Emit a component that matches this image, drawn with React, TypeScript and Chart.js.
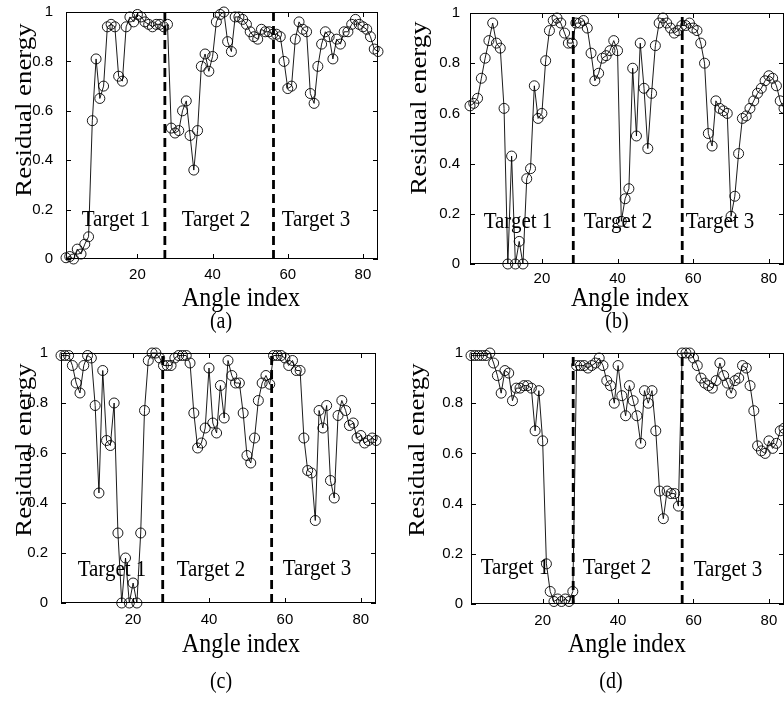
import React, { useEffect, useRef } from 'react';
import { Chart, registerables } from 'chart.js';

Chart.register(...registerables);

// ---------- data ----------
const X_MIN = 1;
const X_MAX = 84;
const X_TICKS = [20, 40, 60, 80];
const Y_TICKS = [0, 0.2, 0.4, 0.6, 0.8, 1];
const Y_TICK_LABELS = ['0', '0.2', '0.4', '0.6', '0.8', '1'];
const X_TITLE = 'Angle index';
const Y_TITLE = 'Residual energy';
const TARGET_LABELS = ['Target 1', 'Target 2', 'Target 3'];
const CAPTIONS = ['(a)', '(b)', '(c)', '(d)'];

const RES_A = [
  0.005, 0.01, 0.0, 0.04, 0.02, 0.06, 0.09, 0.56, 0.81, 0.65,
  0.70, 0.94, 0.95, 0.94, 0.74, 0.72, 0.94, 0.98, 0.96, 0.99,
  0.98, 0.96, 0.95, 0.94, 0.95, 0.95, 0.94, 0.95,
  0.53, 0.51, 0.52, 0.60, 0.64, 0.50, 0.36, 0.52, 0.78, 0.83,
  0.76, 0.82, 0.96, 0.99, 1.0, 0.88, 0.84,
  0.98, 0.98, 0.97, 0.95, 0.92, 0.90, 0.89, 0.93, 0.92, 0.92, 0.91,
  0.91, 0.90, 0.80, 0.69, 0.70, 0.89, 0.96, 0.93, 0.92, 0.67,
  0.63, 0.78, 0.87, 0.92, 0.90, 0.81, 0.89, 0.87, 0.92, 0.92,
  0.95, 0.97, 0.95, 0.94, 0.93, 0.90, 0.85, 0.84,
];

const RES_B = [
  0.63, 0.64, 0.66, 0.74, 0.82, 0.89, 0.96, 0.88, 0.86, 0.62,
  0.0, 0.43, 0.0, 0.09, 0.0, 0.34, 0.38, 0.71, 0.58, 0.60,
  0.81, 0.93, 0.97, 0.98, 0.96, 0.92, 0.88, 0.88,
  0.96, 0.96, 0.97, 0.94, 0.84, 0.73, 0.76, 0.82, 0.83, 0.85,
  0.89, 0.85, 0.17, 0.26, 0.30, 0.78, 0.51, 0.88, 0.70, 0.46,
  0.68, 0.87, 0.96, 0.98, 0.96, 0.94, 0.92, 0.93,
  0.95, 0.95, 0.96, 0.94, 0.93, 0.88, 0.80, 0.52, 0.47, 0.65,
  0.62, 0.61, 0.60, 0.19, 0.27, 0.44, 0.58, 0.59, 0.62, 0.65,
  0.68, 0.70, 0.73, 0.75, 0.74, 0.71, 0.65, 0.62,
];

const RES_C = [
  0.99, 0.99, 0.99, 0.95, 0.88, 0.84, 0.95, 0.99, 0.98, 0.79,
  0.44, 0.93, 0.65, 0.63, 0.80, 0.28, 0.0, 0.18, 0.0, 0.08,
  0.0, 0.28, 0.77, 0.97, 1.0, 1.0, 0.98, 0.95,
  0.95, 0.95, 0.98, 0.99, 0.99, 0.99, 0.96, 0.76, 0.62, 0.64,
  0.70, 0.94, 0.72, 0.68, 0.87, 0.74, 0.97, 0.91, 0.88, 0.88,
  0.76, 0.59, 0.56, 0.66, 0.81, 0.88, 0.91, 0.875,
  0.99, 0.99, 0.99, 0.98, 0.95, 0.97, 0.93, 0.93, 0.66, 0.53,
  0.52, 0.33, 0.77, 0.70, 0.79, 0.49, 0.42, 0.75, 0.81, 0.77,
  0.71, 0.72, 0.66, 0.67, 0.64, 0.65, 0.66, 0.65,
];

const RES_D = [
  0.99, 0.99, 0.99, 0.99, 0.99, 1.0, 0.96, 0.91, 0.84, 0.93,
  0.92, 0.81, 0.86, 0.86, 0.87, 0.87, 0.86, 0.69, 0.85, 0.65,
  0.16, 0.05, 0.01, 0.02, 0.01, 0.02, 0.01, 0.05,
  0.95, 0.95, 0.95, 0.94, 0.95, 0.96, 0.98, 0.95, 0.89, 0.87,
  0.80, 0.95, 0.83, 0.75, 0.87, 0.81, 0.75, 0.64, 0.85, 0.80,
  0.85, 0.69, 0.45, 0.34, 0.45, 0.44, 0.44, 0.39,
  1.0, 1.0, 1.0, 0.98, 0.95, 0.90, 0.88, 0.87, 0.86, 0.89,
  0.96, 0.91, 0.88, 0.84, 0.89, 0.90, 0.95, 0.94, 0.87, 0.77,
  0.63, 0.61, 0.60, 0.65, 0.62, 0.64, 0.69, 0.70,
];

// target boundaries (angle index of the dashed separators)
const BOUNDS_A = [27.3, 56.2];
const BOUNDS_B = [28.3, 57.1];
const BOUNDS_C = [27.8, 56.5];
const BOUNDS_D = [28.1, 57.0];

// ---------- layout (page pixels) ----------
const SERIF = "'Liberation Serif', 'Times New Roman', serif";
const SANS = "'Liberation Sans', Arial, Helvetica, sans-serif";
const STRETCH = 1.12;

const LAYOUTS = [
  {
    left: 0, top: 0, width: 392, height: 340,
    area: { l: 66, t: 12, r: 378, b: 259 }, yPad: 13, xPad: 7,
    yTitle: [25, 110], xTitle: [241, 299], caption: [221, 322],
    targets: [[116, 220], [216, 220], [316, 220]],
  },
  {
    left: 392, top: 0, width: 392, height: 340,
    area: { l: 470, t: 13, r: 784, b: 264 }, yPad: 10, xPad: 6,
    yTitle: [420, 108], xTitle: [630, 299], caption: [617, 322],
    targets: [[518, 222], [618, 222], [720, 222]],
  },
  {
    left: 0, top: 340, width: 392, height: 362,
    area: { l: 61, t: 353, r: 376, b: 603 }, yPad: 13, xPad: 8,
    yTitle: [25, 450], xTitle: [241, 645], caption: [221, 682],
    targets: [[112, 570], [211, 570], [317, 569]],
  },
  {
    left: 392, top: 340, width: 392, height: 362,
    area: { l: 471, t: 353, r: 784, b: 604 }, yPad: 8, xPad: 8,
    yTitle: [418, 450], xTitle: [627, 645], caption: [611, 682],
    targets: [[515, 568], [617, 568], [728, 570]],
  },
];

const PANELS = [
  { values: RES_A, bounds: BOUNDS_A },
  { values: RES_B, bounds: BOUNDS_B },
  { values: RES_C, bounds: BOUNDS_C },
  { values: RES_D, bounds: BOUNDS_D },
];

function drawText(ctx: CanvasRenderingContext2D, text: string, x: number, y: number, size: number, rotate = false) {
  ctx.save();
  ctx.translate(x, y);
  ctx.scale(1, STRETCH);
  if (rotate) ctx.rotate(-Math.PI / 2);
  ctx.font = `${size}px ${SERIF}`;
  ctx.fillStyle = '#000';
  ctx.textAlign = 'center';
  ctx.textBaseline = 'middle';
  ctx.fillText(text, 0, 0);
  ctx.restore();
}

function Panel({ idx }: { idx: number }) {
  const ref = useRef<HTMLCanvasElement | null>(null);
  const lay = LAYOUTS[idx];
  const panel = PANELS[idx];

  useEffect(() => {
    const canvas = ref.current;
    if (!canvas) return;
    const { left, top, width, height, area } = lay;

    const decor = {
      id: 'decor' + idx,
      afterDraw(chart: any) {
        const ctx: CanvasRenderingContext2D = chart.ctx;
        const a = chart.chartArea;
        const xs = chart.scales.x;
        const ys = chart.scales.y;
        ctx.save();
        // dashed target separators
        ctx.strokeStyle = '#000';
        ctx.lineWidth = 2.8;
        ctx.setLineDash([9, 5]);
        for (const b of panel.bounds) {
          const px = xs.getPixelForValue(b);
          ctx.beginPath();
          ctx.moveTo(px, a.bottom);
          ctx.lineTo(px, a.top);
          ctx.stroke();
        }
        ctx.setLineDash([]);
        // box
        ctx.lineWidth = 1;
        ctx.strokeRect(a.left + 0.5, a.top + 0.5, a.right - a.left - 1, a.bottom - a.top - 1);
        // inward ticks
        const tl = 5;
        ctx.beginPath();
        for (const v of X_TICKS) {
          const px = Math.round(xs.getPixelForValue(v)) + 0.5;
          ctx.moveTo(px, a.bottom); ctx.lineTo(px, a.bottom - tl);
          ctx.moveTo(px, a.top); ctx.lineTo(px, a.top + tl);
        }
        for (const v of Y_TICKS) {
          const py = Math.round(ys.getPixelForValue(v)) + 0.5;
          ctx.moveTo(a.left, py); ctx.lineTo(a.left + tl, py);
          ctx.moveTo(a.right, py); ctx.lineTo(a.right - tl, py);
        }
        ctx.stroke();
        ctx.restore();
        // texts
        lay.targets.forEach((p, i) => drawText(ctx, TARGET_LABELS[i], p[0] - left, p[1] - top, 21));
        drawText(ctx, X_TITLE, lay.xTitle[0] - left, lay.xTitle[1] - top, 24);
        drawText(ctx, Y_TITLE, lay.yTitle[0] - left, lay.yTitle[1] - top, 24, true);
        drawText(ctx, CAPTIONS[idx], lay.caption[0] - left, lay.caption[1] - top, 20);
      },
    };

    const chart = new Chart(canvas, {
      type: 'line',
      data: {
        datasets: [
          {
            data: panel.values.map((v, i) => ({ x: i + 1, y: v })),
            borderColor: '#000',
            borderWidth: 0.9,
            pointRadius: 5,
            pointBorderWidth: 0.9,
            pointBorderColor: '#000',
            pointBackgroundColor: 'rgba(0,0,0,0)',
            pointStyle: 'circle',
            tension: 0,
            fill: false,
            clip: false,
          } as any,
        ],
      },
      options: {
        responsive: false,
        animation: false,
        events: [],
        layout: {
          autoPadding: false,
          padding: { left: 0, top: area.t - top, right: left + width - area.r, bottom: 0 },
        },
        plugins: { legend: { display: false }, tooltip: { enabled: false } },
        scales: {
          x: {
            type: 'linear',
            min: X_MIN,
            max: X_MAX,
            grid: { display: false, drawTicks: false },
            border: { display: false },
            ticks: {
              color: '#000',
              font: { family: SANS, size: 15 },
              padding: lay.xPad,
              maxRotation: 0,
              autoSkip: false,
              callback: (v: any) => String(v),
            },
            afterBuildTicks: (s: any) => { s.ticks = X_TICKS.map((v) => ({ value: v })); },
            afterFit: (s: any) => {
              s.height = top + height - area.b;
              s.paddingLeft = 0; s.paddingRight = 0;
            },
          },
          y: {
            type: 'linear',
            min: 0,
            max: 1,
            grid: { display: false, drawTicks: false },
            border: { display: false },
            ticks: {
              color: '#000',
              font: { family: SANS, size: 15 },
              padding: lay.yPad,
              callback: (v: any) => {
                const k = Y_TICKS.findIndex((t) => Math.abs(t - v) < 1e-9);
                return k >= 0 ? Y_TICK_LABELS[k] : '';
              },
            },
            afterBuildTicks: (s: any) => { s.ticks = Y_TICKS.map((v) => ({ value: v })); },
            afterFit: (s: any) => {
              s.width = area.l - left;
              s.paddingTop = 0; s.paddingBottom = 0;
            },
          },
        },
      } as any,
      plugins: [decor],
    });
    return () => chart.destroy();
  }, []);

  return (
    <canvas
      ref={ref}
      width={lay.width}
      height={lay.height}
      style={{ position: 'absolute', left: lay.left, top: lay.top, width: lay.width, height: lay.height }}
    />
  );
}

export default function App() {
  return (
    <div style={{ position: 'absolute', left: 0, top: 0, width: 784, height: 702, background: '#fff', overflow: 'hidden' }}>
      {PANELS.map((_, i) => (
        <Panel key={i} idx={i} />
      ))}
    </div>
  );
}
